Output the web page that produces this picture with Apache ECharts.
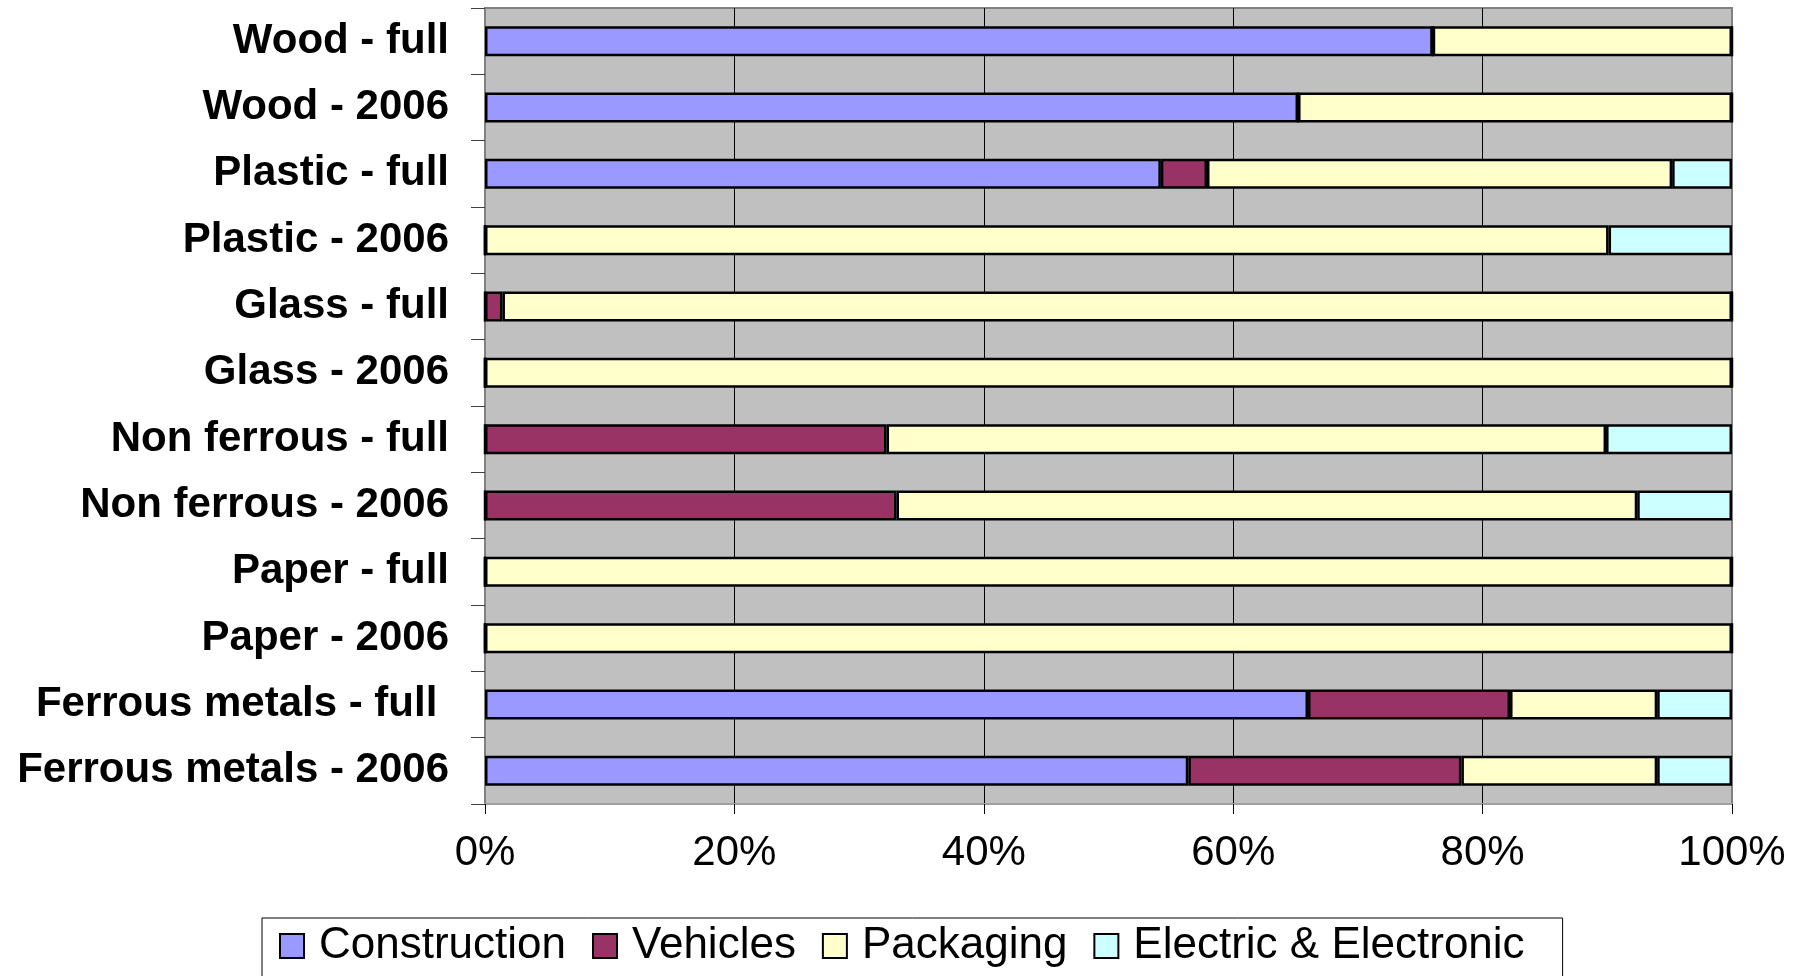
<!DOCTYPE html>
<html>
<head>
<meta charset="utf-8">
<script src="https://cdn.jsdelivr.net/npm/echarts@6/dist/echarts.min.js"></script>
<style>html,body{margin:0;padding:0;background:#fff;}#c{width:1800px;height:976px;}</style>
</head>
<body>
<div id="c"></div>
<script>
const categories = ['Wood - full','Wood - 2006','Plastic - full','Plastic - 2006','Glass - full','Glass - 2006','Non ferrous - full','Non ferrous - 2006','Paper - full','Paper - 2006','Ferrous metals - full ','Ferrous metals - 2006'];
const construction = [76.0, 65.2, 54.2, 0, 0, 0, 0, 0, 0, 0, 66.0, 56.4];
const vehicles     = [0, 0, 3.7, 0, 1.4, 0, 32.2, 33.0, 0, 0, 16.2, 21.9];
const packaging    = [24.0, 34.8, 37.3, 90.1, 98.6, 100, 57.7, 59.4, 100, 100, 11.8, 15.7];
const electric     = [0, 0, 4.8, 9.9, 0, 0, 10.1, 7.6, 0, 0, 6.0, 6.0];
const xTicks = [0, 20, 40, 60, 80, 100];
const seriesNames = ['Construction','Vehicles','Packaging','Electric & Electronic'];
const seriesColors = ['#9999FF','#993366','#FFFFCC','#CCFFFF'];
const seriesData = [construction, vehicles, packaging, electric];

const chart = echarts.init(document.getElementById('c'));
const FONT = 'Liberation Sans';
chart.setOption({
  animation: false,
  backgroundColor: '#ffffff',
  grid: {
    left: 485, right: 68, top: 8, bottom: 172,
    show: true, backgroundColor: '#C0C0C0', borderColor: '#808080', borderWidth: 2
  },
  legend: {
    left: 262, top: 918,
    data: seriesNames,
    icon: 'rect',
    itemWidth: 24, itemHeight: 24,
    itemGap: 26,
    padding: [6, 38, 30, 17],
    backgroundColor: '#ffffff',
    borderColor: '#000000', borderWidth: 1,
    textStyle: { fontFamily: FONT, fontSize: 44, color: '#000', padding: [0, 0, 0, 10] }
  },
  xAxis: {
    type: 'value', min: 0, max: 100, interval: 20,
    axisLine: { show: true, lineStyle: { color: '#A0A0A0', width: 2 } },
    axisTick: { show: true, length: 10, lineStyle: { color: '#000', width: 1 } },
    axisLabel: {
      margin: 28, fontFamily: FONT, fontSize: 42, color: '#000',
      formatter: v => xTicks.includes(v) ? v + '%' : ''
    },
    splitLine: { show: true, lineStyle: { color: ['#808080','#000','#000','#000','#000','#808080'], width: 1 } }
  },
  yAxis: {
    type: 'category', data: categories, inverse: true,
    axisLine: { show: true, lineStyle: { color: '#808080', width: 2 } },
    axisTick: { show: true, length: 14, lineStyle: { color: '#404040', width: 1 } },
    axisLabel: { margin: 36, fontFamily: FONT, fontWeight: 'bold', fontSize: 42, color: '#000' },
    splitLine: { show: false }
  },
  series: seriesNames.map((n, i) => ({
    name: n, type: 'bar', stack: 'total', data: seriesData[i],
    barWidth: 30,
    itemStyle: { color: seriesColors[i], borderColor: '#000', borderWidth: 2.5 }
  }))
});
</script>
</body>
</html>
